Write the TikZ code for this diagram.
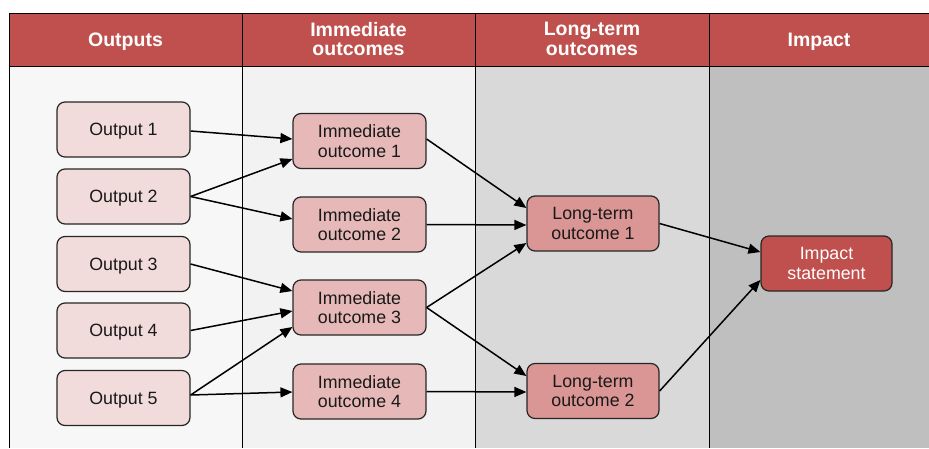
\documentclass[tikz,border=0pt]{standalone}
\usepackage{fontspec}
\setmainfont{Liberation Sans}
\usetikzlibrary{arrows.meta}
\definecolor{hdr}{HTML}{C0504D}
\definecolor{bgA}{HTML}{F7F7F7}
\definecolor{bgB}{HTML}{F2F2F2}
\definecolor{bgC}{HTML}{D9D9D9}
\definecolor{bgD}{HTML}{BFBFBF}
\definecolor{fO}{HTML}{F2DCDB}
\definecolor{fI}{HTML}{E6B9B8}
\definecolor{fL}{HTML}{DA9694}
\definecolor{edge}{HTML}{262626}
\tikzset{
  box/.style={draw=edge, line width=1.2pt, rounded corners=8pt, minimum width=133pt,
    minimum height=55pt, inner sep=0pt, align=center, text=black!90, text depth=0pt,
    font=\fontsize{17.8}{19.5}\selectfont},
  outbox/.style={box, fill=fO},
  imbox/.style={box, fill=fI},
  ltbox/.style={box, fill=fL, minimum width=132pt},
  impbox/.style={box, fill=hdr, text=white, minimum width=131pt},
  hdrtext/.style={text=white, align=center, text depth=0pt, font=\bfseries\fontsize{19.5}{19.5}\selectfont},
  conn/.style={line width=1.5pt, -{Triangle[length=12pt,width=10pt]}},
  divline/.style={line width=1pt, black}
}
\begin{document}
\begin{tikzpicture}[x=1pt,y=-1pt]
\useasboundingbox (0,0) rectangle (929,448);
\fill[white] (0,0) rectangle (929,448);
% column backgrounds
\fill[bgA] (9,66) rectangle (242,448);
\fill[bgB] (242,66) rectangle (475,448);
\fill[bgC] (475,66) rectangle (709,448);
\fill[bgD] (709,66) rectangle (929,448);
% header band
\fill[hdr] (9,13) rectangle (929,66);
\draw[divline] (929,13) -- (9,13) -- (9,448);
\draw[divline] (9,66) -- (929,66);
\draw[divline] (242,13) -- (242,448);
\draw[divline] (475,13) -- (475,448);
\draw[divline] (709,13) -- (709,448);
% header texts
\node[hdrtext] (h1) at (125.5,40) {Outputs};
\node[hdrtext] (h2) at (358.5,39) {Immediate\\outcomes};
\node[hdrtext] (h3) at (592,39) {Long-term\\outcomes};
\node[hdrtext] (h4) at (819,40) {Impact};
% nodes
\node[outbox] (o1) at (123.5,129.5) {Output 1};
\node[outbox] (o2) at (123.5,196.5) {Output 2};
\node[outbox] (o3) at (123.5,264) {Output 3};
\node[outbox] (o4) at (123.5,330.5) {Output 4};
\node[outbox] (o5) at (123.5,398) {Output 5};
\node[imbox] (i1) at (359.5,141) {Immediate\\outcome 1};
\node[imbox] (i2) at (359.5,224.5) {Immediate\\outcome 2};
\node[imbox] (i3) at (359.5,307.5) {Immediate\\outcome 3};
\node[imbox] (i4) at (359.5,391.5) {Immediate\\outcome 4};
\node[ltbox] (l1) at (593,223.5) {Long-term\\outcome 1};
\node[ltbox] (l2) at (593,391) {Long-term\\outcome 2};
\node[impbox] (im) at (826.5,263.5) {Impact\\statement};
% connectors (yshift is in canvas units: positive is up)
\draw[conn] ([yshift=-1.5]o1.east) -- ([yshift=2]i1.west);
\draw[conn] (o2.east) -- ([yshift=-18]i1.west);
\draw[conn] (o2.east) -- ([yshift=5.5]i2.west);
\draw[conn] (o3.east) -- ([yshift=16.5]i3.west);
\draw[conn] (o4.east) -- ([yshift=-3.5]i3.west);
\draw[conn] ([yshift=3]o5.east) -- ([yshift=-19.5]i3.west);
\draw[conn] ([yshift=3]o5.east) -- ([yshift=-0.5]i4.west);
\draw[conn] ([yshift=2]i1.east) -- ([yshift=15.5]l1.west);
\draw[conn] (i2.east) -- ([yshift=-1.5]l1.west);
\draw[conn] (i3.east) -- ([yshift=-19.5]l1.west);
\draw[conn] (i3.east) -- ([yshift=15]l2.west);
\draw[conn] (i4.east) -- ([yshift=-1]l2.west);
\draw[conn] (l1.east) -- ([yshift=11.5]im.west);
\draw[conn] (l2.east) -- ([yshift=-16.5]im.west);
\end{tikzpicture}
\end{document}
